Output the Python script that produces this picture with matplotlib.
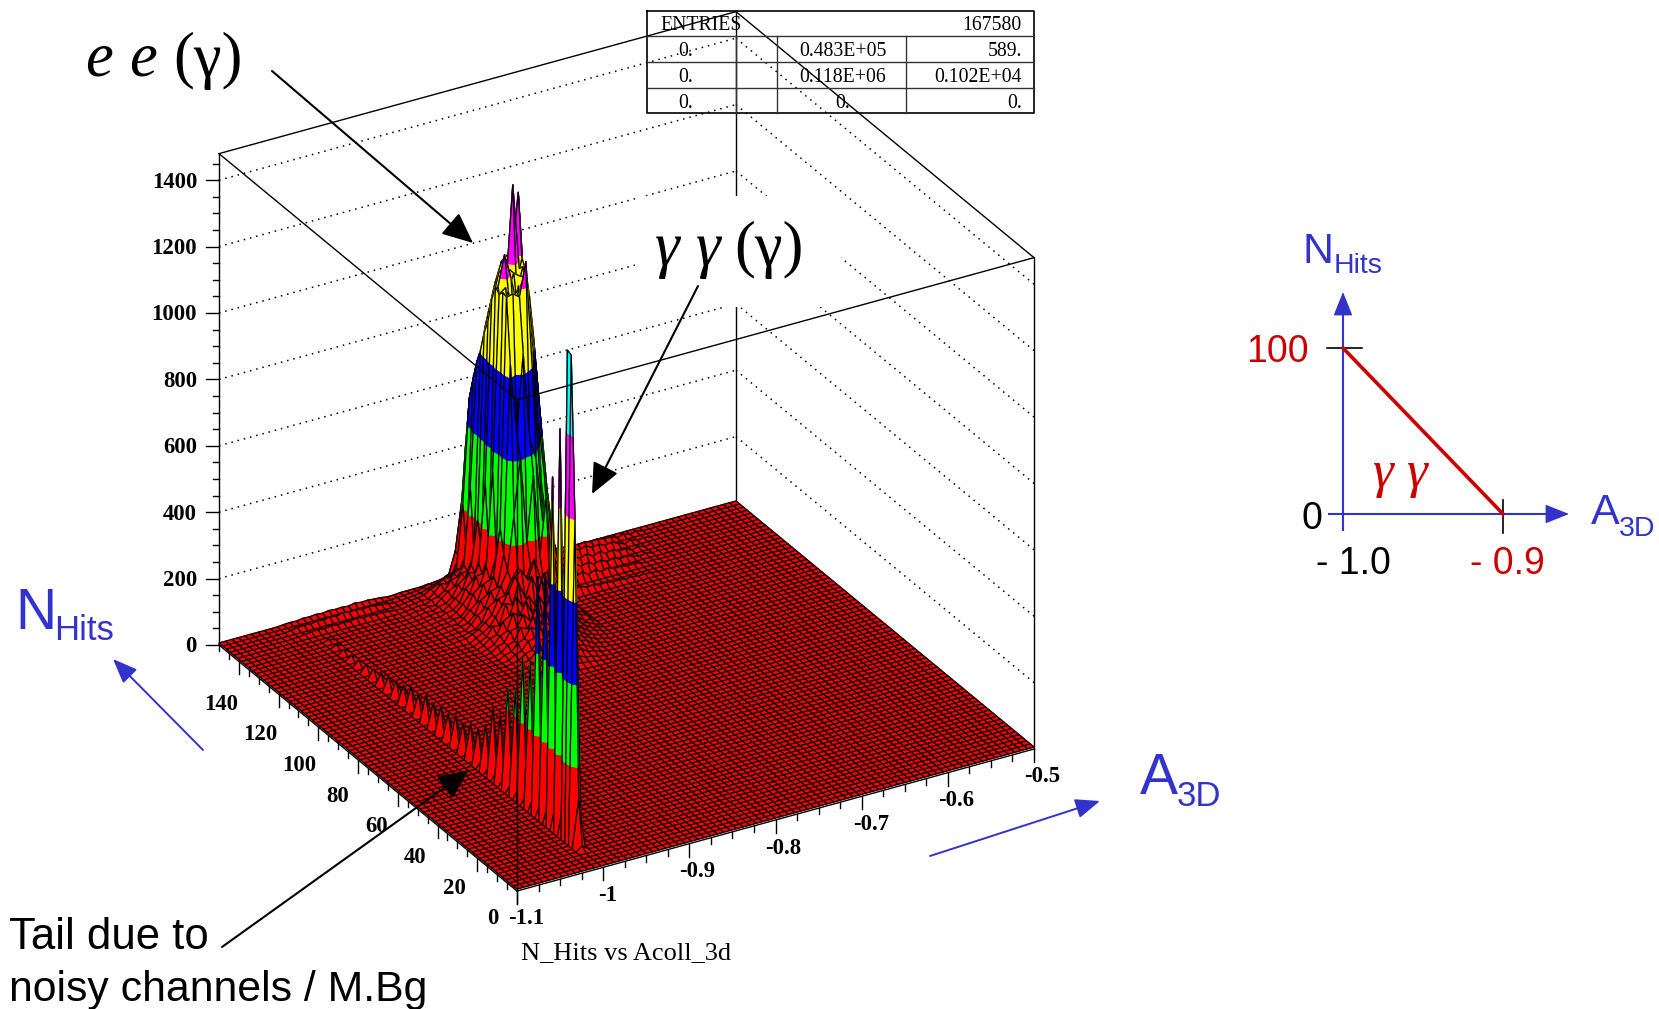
import numpy as np
import matplotlib
matplotlib.use('Agg')
import matplotlib.pyplot as plt
from matplotlib.collections import PolyCollection

# Histogram binning (80 x 80 bins, values sit on the mesh nodes)
a3d_range = [-1.1, -0.5]
nhits_range = [0, 150]
n_a3d = 80
n_nhits = 80
floor_counts = 6

a3d_major = [-1.1, -1.0, -0.9, -0.8, -0.7, -0.6, -0.5]
a3d_labels = ['-1.1', '-1', '-0.9', '-0.8', '-0.7', '-0.6', '-0.5']
nhits_major = [0, 20, 40, 60, 80, 100, 120, 140]
counts_major = [0, 200, 400, 600, 800, 1000, 1200, 1400]
counts_top = 1480

band_levels = [0, 246, 492, 738, 984, 1230, 1600]
band_colors = ['#ff0000', '#00ff00', '#0000ff', '#ffff00', '#ff00ff', '#00ffff']

# gamma gamma ridge: one A3D column, spikes on every second N_Hits bin
ridge_col = 13
ridge_rows = [7, 9, 11, 13, 15, 17, 19, 21, 23, 25, 27, 29, 31, 33, 35, 37, 39, 41, 43, 45, 47,
              49, 51, 53, 55, 57, 59, 61, 63, 65, 67, 69, 71, 73]
ridge_counts = [982, 1476, 1220, 1057, 735, 720, 446, 437, 322, 310, 210, 217, 145, 115, 110, 95, 100,
                85, 90, 80, 85, 70, 75, 60, 55, 50, 40, 35, 30, 25, 20, 18, 15, 12]
ridge_gap_rows = [5, 6, 8, 10, 12, 14, 16, 18, 20, 22, 24, 26, 28, 30, 32]
ridge_gap_counts = [20, 150, 1470, 110, 90, 70, 60, 50, 40, 40, 35, 30, 30, 25, 25]

# e e peak, rows 80 down to 64, columns 36..46
peak_cols = [36, 37, 38, 39, 40, 41, 42, 43, 44, 45, 46]
peak_rows = list(range(80, 63, -1))
peak_counts = [
    [20, 20, 250, 400, 480, 520, 520, 520, 450, 280, 120],
    [100, 247, 400, 560, 650, 700, 740, 740, 620, 380, 150],
    [90, 420, 560, 650, 760, 840, 900, 900, 760, 500, 200],
    [260, 572, 660, 720, 820, 900, 960, 975, 960, 640, 260],
    [120, 640, 700, 770, 860, 940, 930, 970, 1165, 850, 400],
    [330, 700, 740, 800, 890, 960, 975, 900, 975, 700, 350],
    [140, 745, 790, 830, 920, 930, 1217, 960, 950, 600, 300],
    [250, 808, 850, 880, 960, 975, 900, 975, 880, 560, 280],
    [160, 850, 900, 940, 920, 975, 960, 900, 780, 480, 240],
    [380, 925, 960, 1050, 975, 880, 970, 850, 660, 400, 200],
    [180, 975, 880, 950, 800, 960, 900, 720, 540, 320, 160],
    [430, 960, 975, 830, 970, 820, 780, 560, 380, 220, 120],
    [190, 975, 870, 970, 850, 880, 620, 360, 220, 130, 90],
    [280, 970, 975, 960, 1060, 729, 452, 206, 100, 60, 40],
    [210, 780, 560, 800, 540, 470, 280, 130, 70, 45, 30],
    [170, 330, 500, 240, 437, 190, 360, 80, 55, 40, 28],
    [150, 180, 120, 180, 110, 120, 70, 60, 45, 35, 25],
]

# mound in front of the peak, rows 63 down to 49, columns 30..46
mound_cols = list(range(30, 47))
mound_rows = list(range(63, 48, -1))
mound_counts = [
    [18, 28, 40, 65, 95, 130, 170, 184, 150, 205, 140, 160, 90, 70, 50, 35, 25],
    [15, 25, 52, 48, 110, 100, 160, 110, 170, 120, 170, 100, 95, 50, 45, 30, 20],
    [14, 30, 35, 70, 80, 135, 100, 125, 90, 165, 100, 110, 60, 55, 30, 28, 20],
    [12, 20, 42, 50, 100, 85, 125, 80, 130, 90, 125, 70, 70, 40, 35, 18, 18],
    [10, 24, 30, 60, 65, 100, 75, 105, 70, 125, 85, 80, 50, 45, 25, 22, 12],
    [8, 15, 32, 38, 75, 65, 95, 70, 100, 80, 95, 55, 55, 30, 28, 15, 14],
    [6, 16, 22, 42, 50, 80, 65, 85, 70, 95, 65, 60, 38, 35, 20, 18, 10],
    [5, 10, 22, 28, 52, 55, 80, 58, 85, 70, 75, 45, 40, 24, 20, 12, 10],
    [4, 10, 14, 28, 35, 60, 55, 70, 60, 75, 50, 45, 30, 25, 14, 12, 6],
    [3, 6, 14, 18, 36, 38, 62, 45, 70, 50, 52, 35, 30, 16, 14, 8, 7],
    [3, 6, 9, 18, 22, 40, 40, 48, 50, 52, 36, 32, 18, 16, 9, 8, 5],
    [2, 4, 8, 11, 20, 24, 38, 28, 48, 32, 34, 20, 18, 10, 9, 5, 4],
    [2, 3, 5, 9, 11, 20, 22, 24, 26, 28, 18, 16, 10, 8, 5, 4, 3],
    [1, 2, 3, 5, 8, 12, 15, 14, 18, 16, 14, 10, 8, 5, 4, 3, 2],
    [1, 1, 2, 3, 4, 6, 8, 7, 9, 8, 7, 5, 4, 3, 2, 2, 1],
]

# left flank of the mound, rows 80 down to 64, columns 26..35
flank_cols = [26, 27, 28, 29, 30, 31, 32, 33, 34, 35]
flank_rows = list(range(80, 63, -1))
flank_counts = [
    [6, 6, 8, 8, 8, 8, 10, 10, 12, 18],
    [6, 8, 8, 10, 12, 16, 22, 24, 26, 36],
    [6, 8, 10, 12, 14, 20, 28, 34, 38, 50],
    [7, 9, 12, 14, 18, 30, 38, 50, 50, 70],
    [7, 10, 12, 16, 14, 28, 50, 45, 70, 80],
    [8, 10, 14, 12, 22, 25, 38, 65, 70, 100],
    [8, 12, 12, 16, 14, 30, 46, 55, 90, 90],
    [8, 10, 14, 12, 20, 24, 36, 70, 85, 118],
    [8, 10, 12, 16, 14, 28, 44, 62, 110, 105],
    [7, 10, 14, 12, 20, 22, 38, 78, 95, 140],
    [7, 9, 12, 14, 14, 26, 46, 68, 118, 120],
    [7, 9, 12, 12, 18, 20, 38, 80, 95, 150],
    [7, 9, 12, 14, 12, 26, 46, 62, 112, 120],
    [7, 8, 10, 12, 16, 20, 38, 78, 90, 140],
    [7, 8, 10, 12, 12, 26, 48, 62, 110, 115],
    [6, 8, 10, 10, 16, 20, 36, 76, 88, 130],
    [6, 8, 10, 12, 20, 30, 45, 62, 105, 110],
]

# small bumps along the back edge, left of the peak
back_left_cols = list(range(10, 26))
back_left_row80 = [8, 9, 8, 11, 10, 12, 10, 13, 11, 12, 10, 14, 11, 12, 10, 9]
back_left_row78 = [9, 12, 14, 12, 16, 13, 18, 14, 20, 15, 18, 14, 16, 14, 12, 10]
back_left_row76 = [7, 10, 12, 14, 11, 15, 12, 14, 12, 16, 12, 14, 11, 12, 10, 8]

# rough patch along the back edge, right of the peak
back_right_cols = [47, 48, 49, 50, 51, 52, 53, 54, 55, 56, 57, 58, 59, 60, 62, 64]
back_right_row79 = [30, 26, 28, 24, 22, 25, 20, 22, 18, 20, 16, 18, 14, 15, 12, 10]
back_right_row77 = [70, 40, 48, 32, 40, 28, 36, 26, 32, 22, 26, 18, 22, 14, 14, 9]
back_right_row75 = [80, 55, 36, 44, 28, 36, 24, 32, 20, 28, 18, 22, 14, 16, 12, 8]
back_right_row73 = [70, 40, 46, 28, 36, 24, 30, 20, 26, 16, 22, 14, 18, 12, 10, 8]
back_right_row71 = [55, 30, 36, 22, 30, 18, 26, 16, 22, 14, 16, 12, 14, 10, 8, 7]
back_right_row68 = [40, 24, 26, 18, 20, 14, 18, 12, 14, 10, 12, 9, 10, 8, 7, 7]

# Statistics box
stats_entries = '167580'
stats_rows = [['0.', '0.483E+05', '589.'],
              ['0.', '0.118E+06', '0.102E+04'],
              ['0.', '0.', '0.']]

heights = np.full((n_nhits + 1, n_a3d + 1), float(floor_counts))
a3d_nodes = np.linspace(a3d_range[0], a3d_range[1], n_a3d + 1)
nhits_nodes = np.linspace(nhits_range[0], nhits_range[1], n_nhits + 1)


def put_table(rows, cols, table):
    for r, line in zip(rows, table):
        for c, value in zip(cols, line):
            heights[r, c] = max(value, floor_counts)


put_table(mound_rows, mound_cols, mound_counts)
put_table(flank_rows, flank_cols, flank_counts)
put_table(peak_rows, peak_cols, peak_counts)
put_table([80, 78, 76], back_left_cols, [back_left_row80, back_left_row78, back_left_row76])
put_table([79, 77, 75, 73, 71, 68], back_right_cols,
          [back_right_row79, back_right_row77, back_right_row75,
           back_right_row73, back_right_row71, back_right_row68])
for r, value in zip(ridge_rows, ridge_counts):
    heights[r, ridge_col] = value
for r, value in zip(ridge_gap_rows, ridge_gap_counts):
    heights[r, ridge_col] = value


# Oblique view of the PAW plot: front corner, and the screen vector of each axis
def project(a3d, nhits, counts):
    u = (np.asarray(a3d) - a3d_range[0]) / (a3d_range[1] - a3d_range[0])
    v = (np.asarray(nhits) - nhits_range[0]) / (nhits_range[1] - nhits_range[0])
    sx = 517 + 517 * u - 298 * v
    sy = 891 - 142 * u - 246 * v - 0.332 * np.asarray(counts)
    return sx, sy


def clip_band(poly, lo, hi):
    # poly is a list of (a3d, nhits, counts)
    for level, keep_above in ((lo, True), (hi, False)):
        out = []
        for i in range(len(poly)):
            p = poly[i]
            q = poly[(i + 1) % len(poly)]
            p_in = p[2] >= level if keep_above else p[2] <= level
            q_in = q[2] >= level if keep_above else q[2] <= level
            if p_in:
                out.append(p)
            if p_in != q_in:
                t = (level - p[2]) / (q[2] - p[2])
                out.append((p[0] + t * (q[0] - p[0]), p[1] + t * (q[1] - p[1]), level))
        poly = out
        if not poly:
            break
    return poly


fig = plt.figure(figsize=(16.59, 10.09), dpi=100)
ax = fig.add_axes([0, 0, 1, 1])
ax.set_xlim(0, 1659)
ax.set_ylim(1009, 0)
ax.axis('off')

a0, a1 = a3d_range
n0, n1 = nhits_range


def box_line(p, q, **kw):
    sx, sy = project([p[0], q[0]], [p[1], q[1]], [p[2], q[2]])
    ax.plot(sx, sy, **kw)


# Back walls with the dotted levels
dots = dict(color='k', lw=1.1, linestyle=(0, (1, 3.2)), zorder=1)
for c in counts_major[1:]:
    box_line((a0, n1, c), (a1, n1, c), **dots)
    box_line((a1, n1, c), (a1, n0, c), **dots)
solid = dict(color='k', lw=1.0, zorder=2)
box_line((a1, n1, 0), (a1, n1, counts_top), **solid)
box_line((a0, n1, counts_top), (a1, n1, counts_top), **solid)
box_line((a1, n1, counts_top), (a1, n0, counts_top), **solid)
box_line((a1, n0, 0), (a1, n0, counts_top), **solid)

# white patch left under the gamma gamma label
ax.fill([635, 841, 841, 635], [196, 196, 307, 307], color='white', zorder=3, lw=0)

# Surface, painted from the back corner to the front corner
verts = []
faces = []
edges = []
for r in range(n_nhits - 1, -1, -1):
    for c in range(n_a3d - 1, -1, -1):
        quad = [(a3d_nodes[c], nhits_nodes[r], heights[r, c]),
                (a3d_nodes[c + 1], nhits_nodes[r], heights[r, c + 1]),
                (a3d_nodes[c + 1], nhits_nodes[r + 1], heights[r + 1, c + 1]),
                (a3d_nodes[c], nhits_nodes[r + 1], heights[r + 1, c])]
        z_top = max(q[2] for q in quad)
        for b in range(len(band_colors)):
            if band_levels[b] > z_top:
                break
            piece = clip_band(quad, band_levels[b], band_levels[b + 1])
            if len(piece) >= 3:
                sx, sy = project([q[0] for q in piece], [q[1] for q in piece], [q[2] for q in piece])
                verts.append(np.column_stack([sx, sy]))
                faces.append(band_colors[b])
                edges.append(band_colors[b])
        sx, sy = project([q[0] for q in quad], [q[1] for q in quad], [q[2] for q in quad])
        verts.append(np.column_stack([sx, sy]))
        faces.append('none')
        edges.append('k')
surface = PolyCollection(verts, facecolors=faces, edgecolors=edges, linewidths=0.92, zorder=4)
ax.add_collection(surface)

# Frame in front of the surface
front = dict(color='k', lw=1.0, zorder=5)
box_line((a0, n0, 0), (a0, n1, 0), **front)
box_line((a0, n0, 0), (a1, n0, 0), **front)
box_line((a1, n1, 0), (a0, n1, 0), color='k', lw=0.8, zorder=1)
box_line((a0, n1, 0), (a0, n1, counts_top), **front)
box_line((a0, n0, 0), (a0, n0, counts_top), **front)
box_line((a0, n1, counts_top), (a0, n0, counts_top), **front)
box_line((a0, n0, counts_top), (a1, n0, counts_top), **front)

# Ticks and tick labels
tick_font = dict(family='Liberation Serif', fontweight='bold', fontsize=16.4, zorder=6)
for c in np.arange(0, counts_top, 50):
    sx, sy = project(a0, n1, c)
    length = 13 if c % 200 == 0 else 6
    ax.plot([sx, sx - length], [sy, sy], color='k', lw=1.0, zorder=5)
for c in counts_major:
    sx, sy = project(a0, n1, c)
    ax.text(sx - 22, sy + 2, str(c), ha='right', va='center', **tick_font)

for n in np.arange(0, 151, 5):
    sx, sy = project(a0, n, 0)
    length = 13 if n % 20 == 0 else 6
    ax.plot([sx, sx], [sy, sy + length], color='k', lw=1.0, zorder=5)
for n in nhits_major:
    sx, sy = project(a0, n, 0)
    frac = n / 150
    ax.text(sx - 24 + 7 * frac, sy + 28 + 16 * frac, str(n), ha='center', va='center', **tick_font)

for a in np.arange(0, 25):
    sx, sy = project(a0 + 0.025 * a, n0, 0)
    length = 13 if a % 4 == 0 else 6
    ax.plot([sx, sx], [sy, sy + length], color='k', lw=1.0, zorder=5)
label_shift = [9, 4, 8, 8, 9, 8, 8]
for a, text, shift in zip(a3d_major, a3d_labels, label_shift):
    sx, sy = project(a, n0, 0)
    ax.text(sx + shift, sy + 28, text, ha='center', va='center', **tick_font)

ax.text(626, 953, 'N_Hits vs Acoll_3d', family='Liberation Serif', fontsize=19, ha='center', va='center', zorder=6)

# Statistics box
tab = dict(color='#333333', lw=1.0, zorder=5)
ax.plot([647, 1034, 1034, 647, 647], [11, 11, 113, 113, 11], color='k', lw=1.2, zorder=5)
for y in [36, 62, 88]:
    ax.plot([647, 1034], [y, y], **tab)
for x in [736, 777, 906]:
    ax.plot([x, x], [36, 113], **tab)
stat_font = dict(family='Liberation Serif', fontsize=14.2, va='center', zorder=6)
ax.text(660, 25, 'ENTRIES', ha='left', **stat_font)
ax.text(1022, 25, stats_entries, ha='right', **stat_font)
for y, row in zip([51, 77, 103], stats_rows):
    ax.text(686, y, row[0], ha='center', **stat_font)
    ax.text(843, y, row[1], ha='center', **stat_font)
    ax.text(1022, y, row[2], ha='right', **stat_font)


def arrow(start, end, color='k', lw=1.5, length=1.9, width=0.85):
    style = f'-|>,head_length={length},head_width={width}'
    ax.annotate('', xy=end, xytext=start, zorder=7,
                arrowprops=dict(arrowstyle=style, mutation_scale=10, color=color, lw=lw,
                                shrinkA=0, shrinkB=0))


# Annotations
serif_it = dict(family='Liberation Serif', style='italic', fontsize=45, va='baseline', zorder=7)
serif_up = dict(family='Liberation Serif', fontsize=45, va='baseline', zorder=7)
ax.text(85, 76, 'e', **serif_it)
ax.text(129, 76, 'e', **serif_it)
ax.text(173, 76, '(γ)', **serif_up)
ax.text(655, 265, 'γ', **serif_it)
ax.text(696, 265, 'γ', **serif_it)
ax.text(734, 265, '(γ)', **serif_up)
arrow((272, 71), (473, 243))
arrow((698, 286), (592, 494))
arrow((222, 947), (469, 770))

sans = dict(family='Liberation Sans', zorder=7)
ax.text(9, 949, 'Tail due to', fontsize=31.5, va='baseline', **sans)
ax.text(9, 1001, 'noisy channels / M.Bg', fontsize=30.8, va='baseline', **sans)

blue = '#3333cc'
dark_red = '#cc0000'
ax.text(15, 629, 'N', fontsize=41, color=blue, va='baseline', **sans)
ax.text(54, 640, 'Hits', fontsize=25, color=blue, va='baseline', **sans)
arrow((203, 750), (113, 659), color=blue, lw=1.4, length=1.5, width=0.6)
ax.text(1140, 794, 'A', fontsize=41, color=blue, va='baseline', **sans)
ax.text(1177, 806, '3D', fontsize=25, color=blue, va='baseline', **sans)
arrow((930, 856), (1100, 801), color=blue, lw=1.4, length=1.5, width=0.6)

# Sketch of the selection on the right
ax.plot([1343, 1343], [530, 310], color=blue, lw=1.5, zorder=5)
ax.plot([1329, 1550], [514, 514], color=blue, lw=1.5, zorder=5)
arrow((1343, 320), (1343, 292), color=blue, lw=1.0, length=1.5, width=0.6)
arrow((1540, 514), (1569, 514), color=blue, lw=1.0, length=1.5, width=0.6)
ax.plot([1327, 1362], [348, 348], color='k', lw=1.2, zorder=5)
ax.plot([1503, 1503], [500, 533], color='k', lw=1.2, zorder=5)
ax.plot([1343, 1503], [348, 514], color=dark_red, lw=2.6, zorder=6)
ax.text(1277, 352, '100', fontsize=27, color=dark_red, ha='center', va='center', **sans)
ax.text(1312, 519, '0', fontsize=27, color='k', ha='center', va='center', **sans)
ax.text(1353, 564, '- 1.0', fontsize=27, color='k', ha='center', va='center', **sans)
ax.text(1507, 564, '- 0.9', fontsize=27, color=dark_red, ha='center', va='center', **sans)
ax.text(1302, 263, 'N', fontsize=31, color=blue, va='baseline', **sans)
ax.text(1334, 273, 'Hits', fontsize=20.5, color=blue, va='baseline', **sans)
ax.text(1591, 524, 'A', fontsize=31, color=blue, va='baseline', **sans)
ax.text(1619, 536, '3D', fontsize=20.5, color=blue, va='baseline', **sans)
ax.text(1400, 474, 'γ γ', family='Liberation Serif', style='italic', fontsize=38, color=dark_red,
        ha='center', va='center', zorder=7)

fig.savefig('out.png', dpi=100)
